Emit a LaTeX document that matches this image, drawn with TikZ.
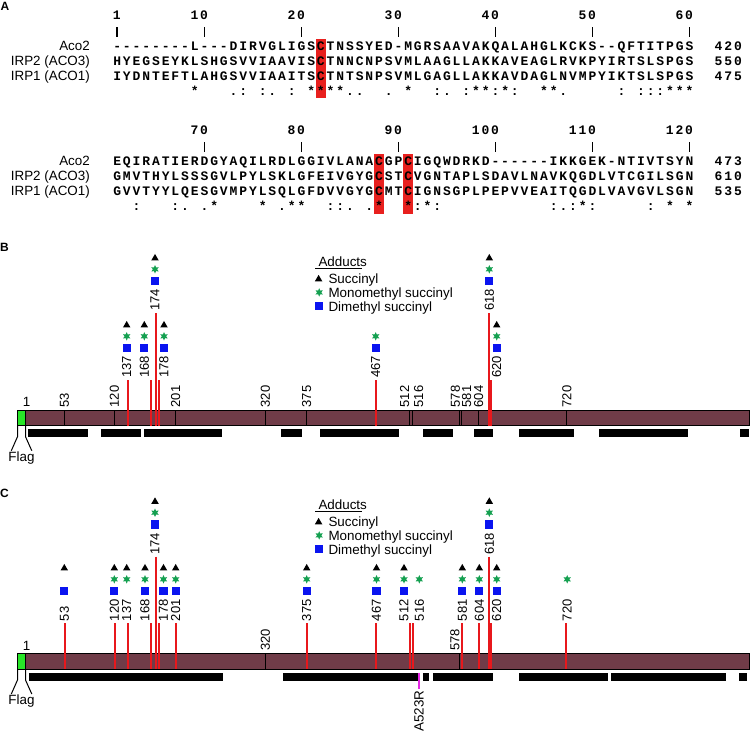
\documentclass[tikz,border=0pt]{standalone}
\usepackage{fontspec}
\setmainfont{Liberation Sans}
\newfontfamily\alnfont{Liberation Mono}
\usetikzlibrary{shapes.geometric}
\definecolor{barc}{RGB}{112,60,72}
\definecolor{flagg}{RGB}{40,230,40}
\definecolor{redl}{RGB}{232,24,28}
\definecolor{starg}{RGB}{20,160,80}
\definecolor{sqblue}{RGB}{10,20,240}
\definecolor{hlred}{RGB}{232,32,30}
\definecolor{magl}{RGB}{230,40,230}
\def\alnseq#1{\alnloop#1\relax}
\def\alnloop#1{\ifx#1\relax\else\makebox[9.7pt][c]{\ifx#1x\else#1\fi}\expandafter\alnloop\fi}
\tikzset{
  lab/.style={font=\fontsize{13.4}{15}\selectfont, inner sep=0},
  seqlab/.style={lab, anchor=base east},
  seqrow/.style={font=\alnfont\bfseries\fontsize{13}{14}\selectfont, inner sep=0, anchor=base west},
  numlab/.style={font=\fontsize{13}{13}\selectfont, inner sep=0, rotate=90, anchor=west},
  panlab/.style={font=\bfseries\fontsize{12}{12}\selectfont, inner sep=0},
  trisym/.style={regular polygon, regular polygon sides=3, fill=black, inner sep=0, minimum size=8.7},
  starsym/.style={star, star points=6, star point ratio=2, fill=starg, inner sep=0, minimum size=8.5},
  sqsym/.style={rectangle, fill=sqblue, inner sep=0, minimum size=8.3},
  redline/.style={draw=redl, line width=2},
  divline/.style={draw=black, line width=1.2},
  tickline/.style={draw=black, line width=1.3},
  barbox/.style={fill=barc, draw=black, line width=1},
  flagbox/.style={fill=flagg, draw=black, line width=1},
  hl/.style={fill=hlred},
}
\begin{document}
\begin{tikzpicture}[x=1pt,y=-1pt]
\useasboundingbox (0,0) rectangle (751,733);
% ---------------- Panel A ----------------
\node[panlab] (pA) at (5,6) {A};
\fill[hl] (315.85,39) rectangle (325.55,98.5);
\fill[hl] (374.05,154) rectangle (383.75,213.5);
\fill[hl] (403.15,154) rectangle (412.85,213.5);
\foreach \n/\c in {1/1,10/10,20/20,30/30,40/40,50/50,60/60}{
  \node[seqrow, anchor=base east] (na\c) at ({117+(\c-1)*9.7+4.85},19.3) {\expandafter\alnseq\expandafter{\n}};
  \draw[tickline] ({117+(\c-1)*9.7},27.3) -- ({117+(\c-1)*9.7},36.7);
}
\foreach \n/\c in {70/10,80/20,90/30,100/40,110/50,120/60}{
  \node[seqrow, anchor=base east] (nb\c) at ({117+(\c-1)*9.7+4.85},134.3) {\expandafter\alnseq\expandafter{\n}};
  \draw[tickline] ({117+(\c-1)*9.7},142.3) -- ({117+(\c-1)*9.7},151.7);
}
\node[seqlab] (la1) at (90,50.7) {Aco2};
\node[seqlab] (la2) at (90,65.5) {IRP2 (ACO3)};
\node[seqlab] (la3) at (90,80.3) {IRP1 (ACO1)};
\node[seqrow] (sa1) at (112.15,50.7) {\alnseq{--------L---DIRVGLIGSCTNSSYED-MGRSAAVAKQALAHGLKCKS--QFTITPGS}};
\node[seqrow] (sa2) at (112.15,65.5) {\alnseq{HYEGSEYKLSHGSVVIAAVISCTNNCNPSVMLAAGLLAKKAVEAGLRVKPYIRTSLSPGS}};
\node[seqrow] (sa3) at (112.15,80.3) {\alnseq{IYDNTEFTLAHGSVVIAAITSCTNTSNPSVMLGAGLLAKKAVDAGLNVMPYIKTSLSPGS}};
\node[seqrow] (sa4) at (112.15,95.1) {\alnseq{xxxxxxxx*xxx.:x:.x:x****..xx.x*xx:.x:**:*:xx**.xxxxx:x:::***}};
\node[seqrow] (ra1) at (713.5,50.7) {\alnseq{420}};
\node[seqrow] (ra2) at (713.5,65.5) {\alnseq{550}};
\node[seqrow] (ra3) at (713.5,80.3) {\alnseq{475}};
\node[seqlab] (lb1) at (90,165.7) {Aco2};
\node[seqlab] (lb2) at (90,180.5) {IRP2 (ACO3)};
\node[seqlab] (lb3) at (90,195.3) {IRP1 (ACO1)};
\node[seqrow] (sb1) at (112.15,165.7) {\alnseq{EQIRATIERDGYAQILRDLGGIVLANACGPCIGQWDRKD------IKKGEK-NTIVTSYN}};
\node[seqrow] (sb2) at (112.15,180.5) {\alnseq{GMVTHYLSSSGVLPYLSKLGFEIVGYGCSTCVGNTAPLSDAVLNAVKQGDLVTCGILSGN}};
\node[seqrow] (sb3) at (112.15,195.3) {\alnseq{GVVTYYLQESGVMPYLSQLGFDVVGYGCMTCIGNSGPLPEPVVEAITQGDLVAVGVLSGN}};
\node[seqrow] (sb4) at (112.15,210.1) {\alnseq{xx:xxx:.x.*xxxx*x.**xx::.x.*xx*:*:xxxxxxxxxxx:.:*:xxxxx:x*x*}};
\node[seqrow] (rb1) at (713.5,165.7) {\alnseq{473}};
\node[seqrow] (rb2) at (713.5,180.5) {\alnseq{610}};
\node[seqrow] (rb3) at (713.5,195.3) {\alnseq{535}};
% ---------------- Panel B ----------------
\node[panlab] (pB) at (4.5,247) {B};
\draw[barbox] (25.5,410) rectangle (749.7,425.7);
\draw[flagbox] (17.5,410) rectangle (25.5,425.7);
\node[lab, anchor=base] (bone) at (26.7,406.8) {1};
\foreach \r/\lx [count=\i] in {53/64.3,120/114.3,201/175.7,320/265.3,375/306.7,512/404.7,516/418.7,578/455.3,581/466.7,604/478.7,720/567}{
  \pgfmathsetmacro\xx{floor(25.5+(\r-1)*0.752)+0.5}
  \draw[divline] (\xx,410) -- (\xx,425.7);
  \node[numlab] (bd\i) at (\lx,407.5) {\r};
}
\foreach \r/\lx/\tp/\aT/\aS/\aQ [count=\i] in {137/126.7/380/1/1/1,168/144.3/380/1/1/1,174/155/313/1/1/1,178/164/380/1/1/1,467/375.7/380/0/1/1,618/489.3/313/1/1/1,620/496.7/380/1/1/1}{
  \pgfmathsetmacro\xx{round(25.5+(\r-1)*0.752)}
  \draw[redline] (\xx,\tp) -- (\xx,425.7);
  \node[numlab] (bl\i) at (\lx,\tp-2) {\r};
  \ifnum\aQ=1 \node[sqsym] (bq\i) at (\lx,\tp-32) {};\fi
  \ifnum\aS=1 \node[starsym] (bs\i) at (\lx,\tp-43.7) {};\fi
  \ifnum\aT=1 \node[trisym] (bt\i) at (\lx,\tp-54.7) {};\fi
}
\foreach \a/\b [count=\i] in {27.7/87.7,101/141,144.3/221.7,281/301.7,320/399.3,422.7/452.7,474/493.3,519/574,599/687.7,740/749}{
  \fill (\a,429.3) rectangle (\b,437.3);
}
\draw[line width=1] (17.5,425.7) -- (17.5,436.7) -- (11.3,450.7);
\draw[line width=1] (25.5,425.7) -- (25.5,436.7) -- (31.8,450.7);
\node[lab, anchor=base] (bflag) at (21.5,461) {Flag};
\node[lab, anchor=base west] (badd) at (318.3,266.3) {Adducts};
\draw[line width=1] (315,268.6) -- (361.7,268.6);
\node[trisym] (blt) at (318.6,279.2) {};
\node[starsym] (bls) at (319.2,292.4) {};
\node[sqsym] (blq) at (319.2,306.3) {};
\node[lab, anchor=base west] (blt1) at (328.3,283.3) {Succinyl};
\node[lab, anchor=base west] (bls1) at (328.3,297) {Monomethyl succinyl};
\node[lab, anchor=base west] (blq1) at (328.3,311) {Dimethyl succinyl};
% ---------------- Panel C ----------------
\node[panlab] (pC) at (4.5,493) {C};
\draw[barbox] (25.5,653.3) rectangle (749.7,669);
\draw[flagbox] (17.5,653.3) rectangle (25.5,669);
\node[lab, anchor=base] (cone) at (26.7,650.5) {1};
\foreach \r/\lx [count=\i] in {320/265.3,578/455}{
  \pgfmathsetmacro\xx{floor(25.5+(\r-1)*0.752)+0.5}
  \draw[divline] (\xx,653.3) -- (\xx,669);
  \node[numlab] (cd\i) at (\lx,650.7) {\r};
}
\foreach \r/\lx/\tp/\aT/\aS/\aQ [count=\i] in {53/64.3/623.3/1/0/1,120/114.3/623.3/1/1/1,137/126.7/623.3/1/1/0,168/145/623.3/1/1/1,174/155/556.7/1/1/1,178/163.5/623.3/1/1/1,201/175.7/623.3/1/1/1,375/306.7/623.3/1/1/1,467/376.5/623.3/1/1/1,512/404/623.3/1/1/1,516/419.3/623.3/0/1/0,581/462.3/623.3/1/1/1,604/479.3/623.3/1/1/1,618/489.3/556.7/1/1/1,620/496.7/623.3/1/1/1,720/567.2/623.3/0/1/0}{
  \pgfmathsetmacro\xx{round(25.5+(\r-1)*0.752)}
  \draw[redline] (\xx,\tp) -- (\xx,669);
  \node[numlab] (cl\i) at (\lx,\tp-2) {\r};
  \ifnum\aQ=1 \node[sqsym] (cq\i) at (\lx,\tp-32.3) {};\fi
  \ifnum\aS=1 \node[starsym] (cs\i) at (\lx,\tp-44) {};\fi
  \ifnum\aT=1 \node[trisym] (ct\i) at (\lx,\tp-55) {};\fi
}
\foreach \a/\b [count=\i] in {29.3/222.7,283.3/417.7,422.7/429.3,433.3/493.3,519/607.7,610.7/726,739.3/747.3}{
  \fill (\a,673.3) rectangle (\b,681);
}
\draw[line width=1] (17.5,669) -- (17.5,680) -- (11.3,694);
\draw[line width=1] (25.5,669) -- (25.5,680) -- (31.8,694);
\node[lab, anchor=base] (cflag) at (21.5,704.3) {Flag};
\coordinate (mtop) at (419,672.5);
\coordinate (mbot) at (419,688.5);
\draw[draw=magl, line width=2] (mtop) -- (mbot);
\node[lab, rotate=90, anchor=east] (cmut) at (419,690.5) {A523R};
\node[lab, anchor=base west] (cadd) at (318.3,509.3) {Adducts};
\draw[line width=1] (315,511.6) -- (361.7,511.6);
\node[trisym] (clt) at (318.6,522.2) {};
\node[starsym] (cls) at (319.2,535.4) {};
\node[sqsym] (clq) at (319.2,549.3) {};
\node[lab, anchor=base west] (clt1) at (328.3,526.3) {Succinyl};
\node[lab, anchor=base west] (cls1) at (328.3,540) {Monomethyl succinyl};
\node[lab, anchor=base west] (clq1) at (328.3,554) {Dimethyl succinyl};
\end{tikzpicture}
\end{document}
